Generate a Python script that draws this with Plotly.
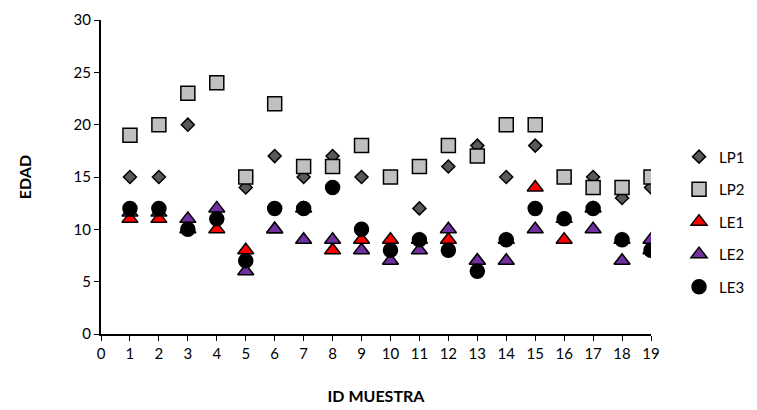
import plotly.graph_objects as go

ids = list(range(1, 20))
LP1 = [15, 15, 20, 11, 14, 17, 15, 17, 15, 15, 12, 16, 18, 15, 18, 15, 15, 13, 14]
LP2 = [19, 20, 23, 24, 15, 22, 16, 16, 18, 15, 16, 18, 17, 20, 20, 15, 14, 14, 15]
LE1 = [11, 11, 10, 10, 8, 10, 12, 8, 9, 9, 9, 9, 7, 9, 14, 9, 12, 9, 8]
LE2 = [11.6, 11.6, 11, 12, 6, 10, 9, 9, 8, 7, 8, 10, 7, 7, 10, 11, 10, 7, 9]
LE3 = [12, 12, 10, 11, 7, 12, 12, 14, 10, 8, 9, 8, 6, 9, 12, 11, 12, 9, 8]

FONT = "Lato"
series = [
    ("LP1", LP1, "diamond", "#595959", 10),
    ("LP2", LP2, "square", "#C0C0C0", 14),
    ("LE1", LE1, "triangle-up", "#FF0000", 14),
    ("LE2", LE2, "triangle-up", "#7030A0", 14),
    ("LE3", LE3, "circle", "#000000", 14),
]

fig = go.Figure()
for i, (name, vals, sym, col, sz) in enumerate(series):
    fig.add_trace(go.Scatter(
        x=ids, y=vals, mode="markers", name=name, legendgroup=name,
        marker=dict(symbol=sym, color=col, size=sz,
                    line=dict(color="#000000", width=1.5)),
    ))

fig.update_layout(
    width=757, height=410,
    margin=dict(l=101, r=106, t=20, b=76, autoexpand=False),
    paper_bgcolor="white", plot_bgcolor="white",
    font=dict(family=FONT, size=15, color="#000000"),
    showlegend=True,
    legend=dict(xref="container", x=0.897, y=0.357, xanchor="left",
                yanchor="middle", font=dict(family=FONT, size=15),
                tracegroupgap=10, itemwidth=30, bgcolor="rgba(0,0,0,0)"),
    xaxis=dict(range=[0, 19], tickmode="linear", tick0=0, dtick=1,
               showgrid=False, zeroline=False, showline=True,
               linecolor="#000000", linewidth=2, ticks="outside",
               ticklen=5, tickwidth=1, tickcolor="#000000",
               title=dict(text="<b>ID MUESTRA</b>", standoff=30,
                          font=dict(family=FONT, size=16))),
    yaxis=dict(range=[0, 30], tickmode="linear", tick0=0, dtick=5,
               showgrid=False, zeroline=False, showline=True,
               linecolor="#000000", linewidth=2, ticks="outside",
               ticklen=5, tickwidth=1, tickcolor="#000000",
               title=dict(text="<b>EDAD</b>", standoff=38,
                          font=dict(family=FONT, size=16))),
)

fig.write_html("out.html")
